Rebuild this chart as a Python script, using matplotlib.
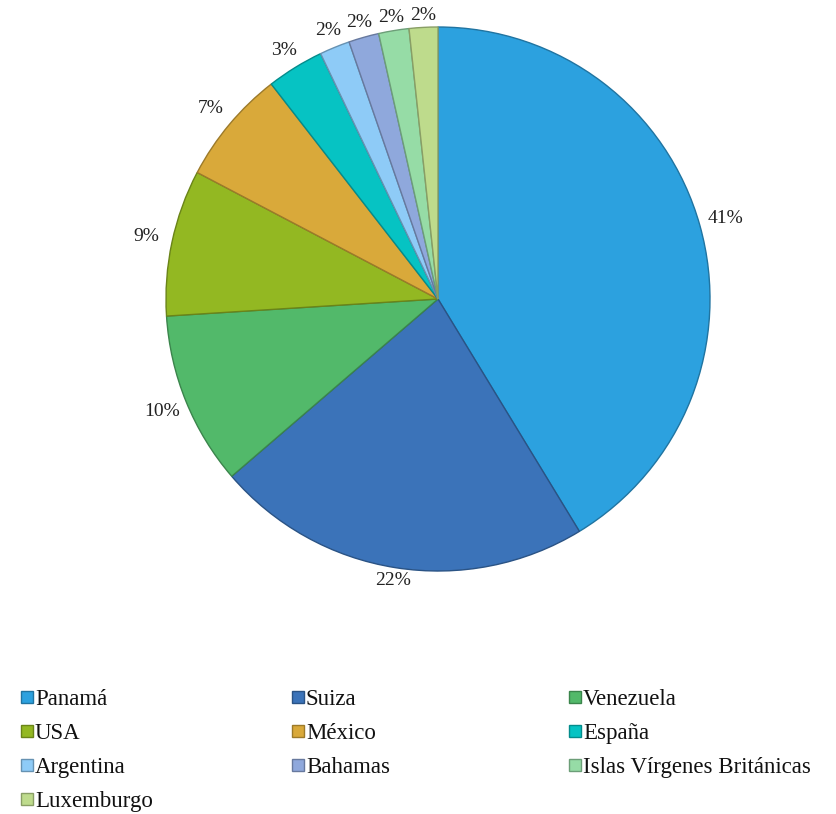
import numpy as np
import matplotlib
matplotlib.use("Agg")
import matplotlib.pyplot as plt
from matplotlib.colors import to_rgb
from matplotlib.patches import Rectangle

# Share by country (labels show rounded values)
countries = ["Panamá", "Suiza", "Venezuela", "USA", "México", "España",
             "Argentina", "Bahamas", "Islas Vírgenes Británicas", "Luxemburgo"]
shares = [41.3, 22.4, 10.3, 8.7, 6.8, 3.4, 1.8, 1.8, 1.8, 1.7]
labels = ["41%", "22%", "10%", "9%", "7%", "3%", "2%", "2%", "2%", "2%"]
colors = ["#2CA1DF", "#3B73B9", "#52B96A", "#93B822", "#D9A93A",
          "#06C3C3", "#8ECBF7", "#8FA8DC", "#96DCA6", "#BEDB8C"]

plt.rcParams["font.family"] = ["Liberation Serif", "DejaVu Serif"]

W, H = 837, 814
fig = plt.figure(figsize=(W / 100, H / 100), dpi=100)

# pie: centre (438, 299) px, radius 272 px
R = 272
span = 1.2
side = 2 * span * R
cx, cy = 438, H - 299
ax = fig.add_axes([(cx - side / 2) / W, (cy - side / 2) / H, side / W, side / H])

edge = [tuple(c * 0.72 for c in to_rgb(col)) for col in colors]
wedges, _ = ax.pie(shares, colors=colors, startangle=90, counterclock=False,
                   radius=1.0, wedgeprops=dict(linewidth=1.0))
for w, e in zip(wedges, edge):
    w.set_edgecolor(e)

# percentage labels just outside the rim
tot = sum(shares)
cum = 0.0
for s, lab in zip(shares, labels):
    mid = 90 - 360 * (cum + s / 2) / tot
    cum += s
    a = np.deg2rad(mid)
    dx, dy = np.cos(a), np.sin(a)
    r = 1.02 + abs(dx) * 0.075 + abs(dy) * 0.018
    ax.text(r * dx, r * dy, lab, ha="center", va="center", fontsize=14,
            color="#222222")

ax.set_xlim(-span, span)
ax.set_ylim(-span, span)
ax.set_aspect("equal")
ax.axis("off")

# legend: 3 columns, 4 rows
col_x = [21, 292, 569]
row_y = [697, 731, 765, 799]
sq = 12
for i, (name, col, e) in enumerate(zip(countries, colors, edge)):
    x = col_x[i % 3]
    y = row_y[i // 3]
    fig.patches.append(Rectangle(((x) / W, (H - y - sq / 2) / H), sq / W, sq / H,
                                 facecolor=col, edgecolor=e, linewidth=1.0,
                                 transform=fig.transFigure, figure=fig))
    fig.text((x + sq + 2) / W, (H - y) / H, name, ha="left",
             va="center_baseline", fontsize=16.5, color="#111111")

fig.savefig("out.png", dpi=100)
